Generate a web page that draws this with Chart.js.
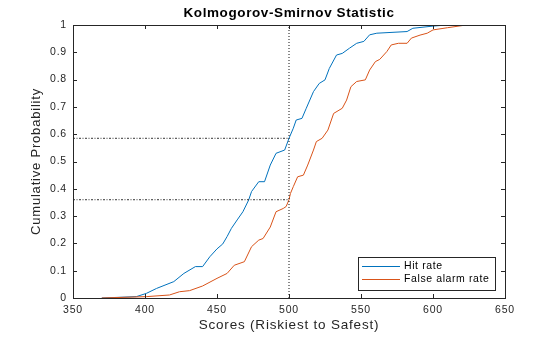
<!DOCTYPE html>
<html>
<head>
<meta charset="utf-8">
<script src="https://cdn.jsdelivr.net/npm/chart.js@4"></script>
<style>
  html, body { margin: 0; padding: 0; background: #fff; }
  #wrap { width: 560px; height: 337px; }
</style>
</head>
<body>
<div id="wrap"><canvas id="ks"></canvas></div>
<script>
// empirical CDF of scores for each group
const hitScores = [370, 394, 401, 408, 420, 427, 435, 440, 445, 450, 454, 457, 460, 464, 468, 472, 474, 479, 483, 487, 491, 497, 500, 503, 505, 509, 512, 517, 521, 525, 528, 533, 537, 542, 547, 552, 556, 561, 582, 586, 600, 610, 614];
const hitRate   = [0, 0.005, 0.017, 0.035, 0.06, 0.09, 0.115, 0.115, 0.151, 0.18, 0.198, 0.225, 0.255, 0.286, 0.316, 0.359, 0.39, 0.426, 0.426, 0.487, 0.53, 0.542, 0.585, 0.622, 0.652, 0.658, 0.695, 0.756, 0.786, 0.799, 0.841, 0.89, 0.896, 0.915, 0.933, 0.94, 0.964, 0.97, 0.976, 0.988, 0.996, 1, 1];

const faScores = [370, 401, 417, 424, 431, 440, 450, 457, 462, 469, 474, 479, 482, 487, 491, 496, 498, 500, 501, 503, 506, 510, 513, 517, 519, 523, 527, 531, 537, 540, 543, 547, 553, 556, 560, 563, 568, 571, 576, 582, 585, 591, 596, 600, 610, 623, 636];
const faRate   = [0, 0.005, 0.011, 0.023, 0.027, 0.044, 0.072, 0.09, 0.12, 0.133, 0.188, 0.212, 0.218, 0.26, 0.316, 0.328, 0.335, 0.36, 0.383, 0.408, 0.444, 0.45, 0.487, 0.542, 0.573, 0.585, 0.615, 0.676, 0.695, 0.725, 0.774, 0.793, 0.799, 0.835, 0.866, 0.874, 0.903, 0.927, 0.933, 0.933, 0.952, 0.963, 0.97, 0.982, 0.99, 1, 1];

// KS cut-off and the two rates at that score
const ksScore = 500;
const ksHit = 0.585;
const ksFalse = 0.36;

const xTicks = [350, 400, 450, 500, 550, 600, 650];
const yTicks = [0, 0.1, 0.2, 0.3, 0.4, 0.5, 0.6, 0.7, 0.8, 0.9, 1];
const yTickLabels = ['0', '0.1', '0.2', '0.3', '0.4', '0.5', '0.6', '0.7', '0.8', '0.9', '1'];

const chartTitle = 'Kolmogorov-Smirnov Statistic';

const toPoints = (xs, ys) => xs.map((x, i) => ({ x: x, y: ys[i] }));
const axisColor = '#262626';
const FONT = 'Arial, "Liberation Sans", Helvetica, sans-serif';
const SPACING = '0.8px';

// slightly wider lettering for all text on the canvas
const wideText = {
    id: 'wideText',
    beforeLayout(chart) { chart.ctx.letterSpacing = SPACING; },
    beforeDraw(chart) { chart.ctx.letterSpacing = SPACING; }
};

// title centred over the axes rather than the whole canvas
const axesTitle = {
    id: 'axesTitle',
    afterDraw(chart) {
        const { ctx, chartArea: a } = chart;
        ctx.save();
        ctx.letterSpacing = '0.6px';
        ctx.font = 'bold 13.5px ' + FONT;
        ctx.fillStyle = '#000';
        ctx.textAlign = 'center';
        ctx.textBaseline = 'middle';
        ctx.fillText(chartTitle, (a.left + a.right) / 2, a.top - 12);
        ctx.restore();
    }
};

// box + inward ticks on all four sides, like a matlab axes
const boxAxes = {
    id: 'boxAxes',
    afterDatasetsDraw(chart) {
        const { ctx, chartArea: a, scales: { x, y } } = chart;
        ctx.save();
        ctx.strokeStyle = axisColor;
        ctx.lineWidth = 1;
        ctx.beginPath();
        xTicks.forEach(v => {
            const px = Math.round(x.getPixelForValue(v)) + 0.5;
            ctx.moveTo(px, a.bottom); ctx.lineTo(px, a.bottom - 4);
            ctx.moveTo(px, a.top); ctx.lineTo(px, a.top + 4);
        });
        yTicks.forEach(v => {
            const py = Math.round(y.getPixelForValue(v)) + 0.5;
            ctx.moveTo(a.left, py); ctx.lineTo(a.left + 4, py);
            ctx.moveTo(a.right, py); ctx.lineTo(a.right - 4, py);
        });
        ctx.stroke();
        ctx.strokeRect(Math.round(a.left) + 0.5, Math.round(a.top) + 0.5,
                       Math.round(a.right - a.left), Math.round(a.bottom - a.top));
        ctx.restore();
    }
};

// legend box in the lower right corner of the axes
const cornerLegend = {
    id: 'cornerLegend',
    afterDraw(chart) {
        const { ctx, chartArea: a } = chart;
        const items = chart.data.datasets.filter(d => d.inLegend);
        const w = 137, h = 33;
        const left = a.right - 10 - w, top = a.bottom - 8 - h;
        ctx.save();
        ctx.letterSpacing = '0.6px';
        ctx.fillStyle = '#fff';
        ctx.fillRect(left, top, w, h);
        ctx.strokeStyle = axisColor;
        ctx.lineWidth = 1;
        ctx.strokeRect(Math.round(left) + 0.5, Math.round(top) + 0.5, w, h);
        ctx.font = '10.5px ' + FONT;
        ctx.textBaseline = 'middle';
        ctx.fillStyle = '#000';
        items.forEach((d, i) => {
            const cy = Math.round(top + 9 + i * 13) + 0.5;
            ctx.strokeStyle = d.borderColor;
            ctx.beginPath();
            ctx.moveTo(left + 4, cy);
            ctx.lineTo(left + 42, cy);
            ctx.stroke();
            ctx.fillText(d.label, left + 46, cy);
        });
        ctx.restore();
    }
};

new Chart(document.getElementById('ks'), {
    type: 'line',
    data: {
        datasets: [
            {
                label: 'Hit rate',
                inLegend: true,
                data: toPoints(hitScores, hitRate),
                borderColor: '#0072BD',
                borderWidth: 1,
                pointRadius: 0,
                order: 2
            },
            {
                label: 'False alarm rate',
                inLegend: true,
                data: toPoints(faScores, faRate),
                borderColor: '#D95319',
                borderWidth: 1,
                pointRadius: 0,
                order: 1
            },
            {
                label: 'cutoff',
                data: [{ x: ksScore, y: 0 }, { x: ksScore, y: 1 }],
                borderColor: '#111',
                borderWidth: 1,
                borderDash: [1, 2],
                pointRadius: 0,
                order: 0
            },
            {
                label: 'hit at cutoff',
                data: [{ x: 350, y: ksHit }, { x: ksScore, y: ksHit }],
                borderColor: '#333',
                borderWidth: 1,
                borderDash: [2, 1.5, 1, 1.5],
                pointRadius: 0,
                order: 0
            },
            {
                label: 'false alarm at cutoff',
                data: [{ x: 350, y: ksFalse }, { x: ksScore, y: ksFalse }],
                borderColor: '#333',
                borderWidth: 1,
                borderDash: [2, 1.5, 1, 1.5],
                pointRadius: 0,
                order: 0
            }
        ]
    },
    options: {
        responsive: true,
        maintainAspectRatio: false,
        animation: false,
        layout: { padding: { top: 25, left: 0, right: 55, bottom: 0 } },
        plugins: {
            legend: { display: false },
            tooltip: { enabled: false },
            title: { display: false }
        },
        scales: {
            x: {
                type: 'linear',
                min: 350,
                max: 650,
                afterBuildTicks: s => { s.ticks = xTicks.map(v => ({ value: v })); },
                afterFit: s => { s.height = 39; },
                grid: { display: false, drawTicks: false },
                border: { display: false },
                ticks: { color: axisColor, padding: 6, maxRotation: 0, font: { family: FONT, size: 10.5 } },
                title: {
                    display: true,
                    text: 'Scores (Riskiest to Safest)',
                    color: axisColor,
                    font: { family: FONT, size: 13.5, lineHeight: 1.2 },
                    padding: { bottom: 3.5 }
                }
            },
            y: {
                type: 'linear',
                min: 0,
                max: 1,
                afterBuildTicks: s => { s.ticks = yTicks.map(v => ({ value: v })); },
                afterFit: s => { s.width = 73; },
                grid: { display: false, drawTicks: false },
                border: { display: false },
                ticks: {
                    color: axisColor,
                    padding: 6,
                    font: { family: FONT, size: 10.5 },
                    callback: (v) => yTickLabels[yTicks.indexOf(Math.round(v * 10) / 10)]
                },
                title: {
                    display: true,
                    text: 'Cumulative Probability',
                    color: axisColor,
                    font: { family: FONT, size: 13, lineHeight: 1.2 },
                    padding: { top: 29 }
                }
            }
        }
    },
    plugins: [wideText, boxAxes, cornerLegend, axesTitle]
});
</script>
</body>
</html>
